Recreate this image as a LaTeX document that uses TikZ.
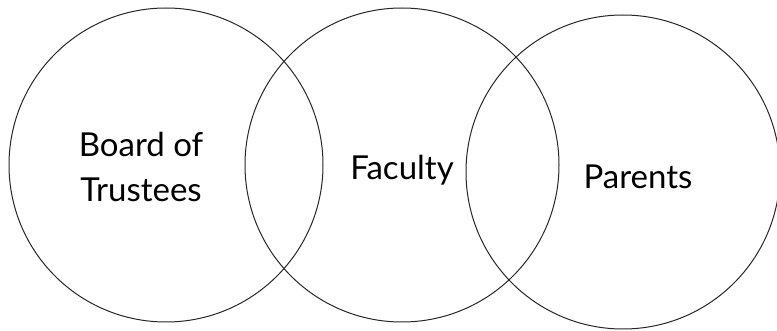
\documentclass[tikz,border=0pt]{standalone}
\usepackage{fontspec}
\setmainfont{Lato}

\begin{document}
\begin{tikzpicture}[
    x=1pt, y=-1pt,
    font=\fontsize{33}{36}\selectfont,
    venn/.style={circle, draw=black!85, line width=1pt, minimum size=314pt, inner sep=0pt},
    every node/.style={inner sep=2pt},
]
% ---- page frame ----
\useasboundingbox (0,0) rectangle (777,331);

% ---- circle centres ----
\def\xA{166}   % board
\def\xB{402}   % faculty
\def\xC{623}   % parents
\def\yA{165}
\def\yC{172}

% ---- the three circles ----
\node[venn] (board)   at (\xA,\yA) {};
\node[venn] (faculty) at (\xB,\yA) {};
\node[venn] (parents) at (\xC,\yC) {};

% ---- labels ----
\node[align=center, font=\fontsize{33}{45}\selectfont] (boardlab) at (141,167) {Board of\\Trustees};
\node (facultylab) at (402,170) {Faculty};
\node (parentslab) at (638,177) {Parents};

\end{tikzpicture}
\end{document}
